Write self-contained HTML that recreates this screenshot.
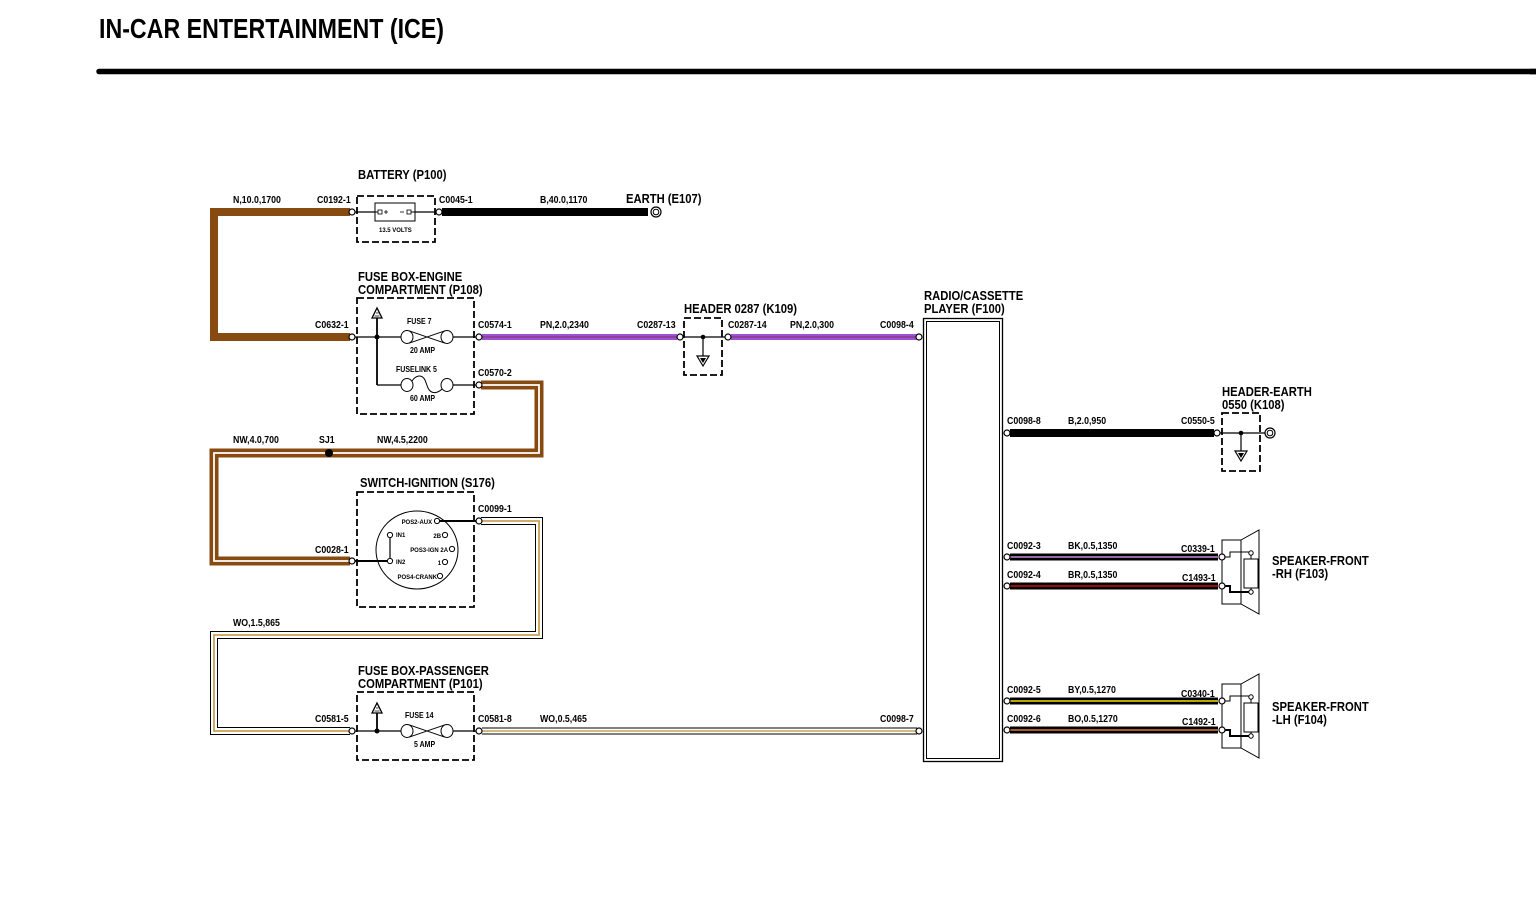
<!DOCTYPE html>
<html><head><meta charset="utf-8"><style>
html,body{margin:0;padding:0;background:#fff;}
svg{display:block;}
text{font-family:"Liberation Sans",Arial,sans-serif;font-weight:bold;fill:#000;}
.s{font-size:10px;transform-box:fill-box;transform-origin:0 0;transform:scaleX(.88);}
.m{font-size:12.5px;transform-box:fill-box;transform-origin:0 0;transform:scaleX(.9);}
.t{font-size:8px;transform-box:fill-box;transform-origin:0 0;transform:scaleX(.88);}
.x{font-size:6.8px;transform-box:fill-box;transform-origin:0 0;transform:scaleX(.88);}
.xe{font-size:6.8px;text-anchor:end;transform-box:fill-box;transform-origin:100% 0;transform:scaleX(.88);}
.db{fill:none;stroke:#000;stroke-width:1.8;stroke-dasharray:7 3;}
.ln{fill:none;stroke:#000;stroke-width:1.2;}
.cn{fill:#fff;stroke:#000;stroke-width:1.2;}
</style></head><body>
<svg width="1536" height="905" viewBox="0 0 1536 905" xmlns="http://www.w3.org/2000/svg">
<rect width="1536" height="905" fill="#fff"/>
<!-- title -->
<text x="99" y="38" font-size="28" textLength="345" lengthAdjust="spacingAndGlyphs">IN-CAR ENTERTAINMENT (ICE)</text>
<path d="M99 71.5 H1536" stroke="#000" stroke-width="5.5" stroke-linecap="round"/>
<rect x="1530" y="68.8" width="6" height="5.5" fill="#000"/>

<!-- ===== WIRES ===== -->
<!-- N brown -->
<polyline points="350,212 214,212 214,337 350,337" fill="none" stroke="#874a10" stroke-width="8"/>
<!-- B black battery-earth -->
<line x1="442" y1="212" x2="648" y2="212" stroke="#000" stroke-width="8"/>
<!-- PN purple -->
<line x1="482" y1="337" x2="677" y2="337" stroke="#9d52d6" stroke-width="6"/>
<line x1="482" y1="337" x2="677" y2="337" stroke="#7b3060" stroke-width="1"/>
<line x1="731" y1="337" x2="917" y2="337" stroke="#9d52d6" stroke-width="6"/>
<line x1="731" y1="337" x2="917" y2="337" stroke="#7b3060" stroke-width="1"/>
<!-- NW brown/white -->
<polyline points="481,385 539,385 539,453 214,453 214,561 350,561" fill="none" stroke="#874a10" stroke-width="9"/>
<polyline points="481,385 539,385 539,453 214,453 214,561 350,561" fill="none" stroke="#fff" stroke-width="1.8"/>
<!-- WO -->
<polyline points="481,521 539,521 539,635 214,635 214,731 350,731" fill="none" stroke="#000" stroke-width="8"/>
<polyline points="481,521 539,521 539,635 214,635 214,731 350,731" fill="none" stroke="#fff" stroke-width="6"/>
<polyline points="481,521 539,521 539,635 214,635 214,731 350,731" fill="none" stroke="#c9a05a" stroke-width="1.8"/>
<line x1="482" y1="731" x2="917" y2="731" stroke="#000" stroke-width="7"/>
<line x1="482" y1="731" x2="917" y2="731" stroke="#fff" stroke-width="5"/>
<line x1="482" y1="731" x2="917" y2="731" stroke="#c9a05a" stroke-width="1.6"/>
<!-- B 2.0 -->
<line x1="1010" y1="433" x2="1214" y2="433" stroke="#000" stroke-width="8"/>
<!-- speaker wires -->
<line x1="1010" y1="557" x2="1218" y2="557" stroke="#000" stroke-width="7"/>
<line x1="1010" y1="557" x2="1218" y2="557" stroke="#c98ad8" stroke-width="1.4"/>
<line x1="1010" y1="586" x2="1218" y2="586" stroke="#000" stroke-width="7"/>
<line x1="1010" y1="586" x2="1218" y2="586" stroke="#c81010" stroke-width="1.4"/>
<line x1="1010" y1="701" x2="1218" y2="701" stroke="#000" stroke-width="7"/>
<line x1="1010" y1="701" x2="1218" y2="701" stroke="#f2e000" stroke-width="1.4"/>
<line x1="1010" y1="730" x2="1218" y2="730" stroke="#000" stroke-width="7"/>
<line x1="1010" y1="730" x2="1218" y2="730" stroke="#e07a30" stroke-width="1.4"/>

<!-- ===== BATTERY ===== -->
<rect class="db" x="357" y="196" width="78" height="46"/>
<line class="ln" x1="352" y1="212" x2="375" y2="212"/>
<line class="ln" x1="415" y1="212" x2="440" y2="212"/>
<rect x="375" y="203" width="40" height="18" fill="none" stroke="#000" stroke-width="1"/>
<rect x="378" y="210" width="4" height="4" fill="#fff" stroke="#000" stroke-width=".8"/>
<line x1="375" y1="212" x2="378" y2="212" stroke="#000" stroke-width="1"/>
<path d="M384 212 h4 M386 210 v4" stroke="#000" stroke-width=".8"/>
<path d="M400 212 h4" stroke="#000" stroke-width=".8"/>
<rect x="407" y="210" width="4" height="4" fill="#fff" stroke="#000" stroke-width=".8"/>
<line x1="411" y1="212" x2="415" y2="212" stroke="#000" stroke-width="1"/>
<text class="x" x="379" y="232">13.5 VOLTS</text>
<!-- earth E107 -->
<circle cx="656" cy="212" r="5" fill="#fff" stroke="#000" stroke-width="1.2"/>
<circle cx="656" cy="212" r="2.8" fill="none" stroke="#000" stroke-width="1"/>

<!-- ===== FUSE BOX ENGINE ===== -->
<rect class="db" x="357" y="298" width="117" height="116"/>
<line class="ln" x1="352" y1="337" x2="401" y2="337"/>
<line class="ln" x1="453" y1="337" x2="478" y2="337"/>
<line x1="377" y1="318" x2="377" y2="385" stroke="#000" stroke-width="1.8"/>
<line class="ln" x1="377" y1="385" x2="401" y2="385"/>
<line class="ln" x1="453" y1="385" x2="478" y2="385"/>
<circle cx="377" cy="337" r="2.5" fill="#000"/>
<polygon points="372,318 382,318 377,308" fill="#fff" stroke="#000" stroke-width="1.3"/>
<path d="M374.5,316 h5 M376,313 h2.5" stroke="#000" stroke-width=".8"/>
<!-- fuse 7 -->
<ellipse cx="407" cy="337" rx="6" ry="6.5" fill="#fff" stroke="#000" stroke-width="1"/>
<ellipse cx="447" cy="337" rx="6" ry="6.5" fill="#fff" stroke="#000" stroke-width="1"/>
<path d="M409,330.8 L445,343.2 M409,343.2 L445,330.8" stroke="#000" stroke-width="1"/>
<text class="t" x="407" y="324">FUSE 7</text>
<text class="t" x="410" y="353">20 AMP</text>
<!-- fuselink 5 -->
<ellipse cx="407" cy="385" rx="6" ry="6.5" fill="#fff" stroke="#000" stroke-width="1"/>
<ellipse cx="447" cy="385" rx="6" ry="6.5" fill="#fff" stroke="#000" stroke-width="1"/>
<path d="M412,381 C416,375 422,374 425,380 L428,388 C431,394 437,394 442,389" fill="none" stroke="#000" stroke-width="1"/>
<text class="t" x="396" y="372">FUSELINK 5</text>
<text class="t" x="410" y="401">60 AMP</text>

<!-- ===== HEADER 0287 ===== -->
<rect class="db" x="684" y="318" width="38" height="57"/>
<line class="ln" x1="680" y1="337" x2="728" y2="337"/>
<circle cx="703" cy="337" r="2.3" fill="#000"/>
<line class="ln" x1="703" y1="337" x2="703" y2="356"/>
<polygon points="697,356 709,356 703,366" fill="#fff" stroke="#000" stroke-width="1.2"/>
<polygon points="700,358 706,358 703,363" fill="#000"/>

<!-- ===== RADIO ===== -->
<rect x="923.5" y="318.5" width="79" height="443" fill="#fff" stroke="#000" stroke-width="1.3"/>
<rect x="926.5" y="321.5" width="73" height="437" fill="none" stroke="#000" stroke-width="1"/>

<!-- ===== HEADER EARTH ===== -->
<rect class="db" x="1222" y="413" width="38" height="58"/>
<line class="ln" x1="1216" y1="433" x2="1265" y2="433"/>
<circle cx="1241" cy="433" r="2.3" fill="#000"/>
<line class="ln" x1="1241" y1="433" x2="1241" y2="451"/>
<polygon points="1235,451 1247,451 1241,461" fill="#fff" stroke="#000" stroke-width="1.2"/>
<polygon points="1238,453 1244,453 1241,458" fill="#000"/>
<circle cx="1270" cy="433" r="5" fill="#fff" stroke="#000" stroke-width="1.2"/>
<circle cx="1270" cy="433" r="2.8" fill="none" stroke="#000" stroke-width="1"/>

<!-- ===== SWITCH IGNITION ===== -->
<rect class="db" x="357" y="492" width="117" height="115"/>
<ellipse cx="417" cy="550" rx="41" ry="39" fill="none" stroke="#000" stroke-width="1"/>
<line x1="352" y1="561" x2="390" y2="561" stroke="#000" stroke-width="2"/>
<line x1="437" y1="521" x2="478" y2="521" stroke="#000" stroke-width="2"/>
<line class="ln" x1="390" y1="535" x2="390" y2="561"/>
<circle cx="390" cy="535" r="2.6" fill="#fff" stroke="#000"/>
<circle cx="390" cy="561" r="2.6" fill="#fff" stroke="#000"/>
<circle cx="437" cy="521" r="2.6" fill="#fff" stroke="#000"/>
<circle cx="445" cy="535" r="2.6" fill="#fff" stroke="#000"/>
<circle cx="452" cy="549" r="2.6" fill="#fff" stroke="#000"/>
<circle cx="445" cy="562" r="2.6" fill="#fff" stroke="#000"/>
<circle cx="440" cy="576" r="2.6" fill="#fff" stroke="#000"/>
<text class="xe" x="432" y="524">POS2-AUX</text>
<text class="x" x="396" y="537">IN1</text>
<text class="xe" x="441" y="538">2B</text>
<text class="xe" x="448" y="552">POS3-IGN 2A</text>
<text class="x" x="396" y="564">IN2</text>
<text class="xe" x="441" y="565">1</text>
<text class="xe" x="437" y="579">POS4-CRANK</text>

<!-- ===== FUSE BOX PASSENGER ===== -->
<rect class="db" x="357" y="692" width="117" height="68"/>
<line class="ln" x1="352" y1="731" x2="401" y2="731"/>
<line class="ln" x1="453" y1="731" x2="478" y2="731"/>
<line x1="377" y1="713" x2="377" y2="731" stroke="#000" stroke-width="1.8"/>
<circle cx="377" cy="731" r="2.5" fill="#000"/>
<polygon points="372,713 382,713 377,703" fill="#fff" stroke="#000" stroke-width="1.3"/>
<path d="M374.5,711 h5 M376,708 h2.5" stroke="#000" stroke-width=".8"/>
<ellipse cx="407" cy="731" rx="6" ry="6.5" fill="#fff" stroke="#000" stroke-width="1"/>
<ellipse cx="447" cy="731" rx="6" ry="6.5" fill="#fff" stroke="#000" stroke-width="1"/>
<path d="M409,724.8 L445,737.2 M409,737.2 L445,724.8" stroke="#000" stroke-width="1"/>
<text class="t" x="405" y="718">FUSE 14</text>
<text class="t" x="414" y="747">5 AMP</text>

<!-- ===== SPEAKERS ===== -->
<g id="spk">
<rect x="1222" y="540" width="19" height="64" fill="#fff" stroke="#000" stroke-width="1"/>
<polygon points="1241,540 1259,530 1259,614 1241,604" fill="none" stroke="#000" stroke-width="1"/>
<rect x="1244" y="559" width="14" height="29" fill="#fff" stroke="#000" stroke-width="1"/>
<path d="M1222,557 H1230 V552 H1249" fill="none" stroke="#000" stroke-width="1"/>
<path d="M1222,586 H1230 V592 H1249" fill="none" stroke="#000" stroke-width="2"/>
<circle cx="1251" cy="553" r="2.2" fill="#fff" stroke="#000" stroke-width="1"/>
<circle cx="1251" cy="592" r="2.2" fill="#fff" stroke="#000" stroke-width="1"/>
<line x1="1251" y1="555" x2="1251" y2="559" stroke="#000" stroke-width="1"/>
<line x1="1251" y1="588" x2="1251" y2="590" stroke="#000" stroke-width="1"/>
</g>
<use href="#spk" transform="translate(0,144)"/>

<!-- ===== CONNECTORS ===== -->
<g class="cn">
<circle cx="352" cy="212" r="3"/><circle cx="439" cy="212" r="3"/>
<circle cx="352" cy="337" r="3"/><circle cx="479" cy="337" r="3"/>
<circle cx="479" cy="385" r="3"/>
<circle cx="680" cy="337" r="3"/><circle cx="728" cy="337" r="3"/>
<circle cx="919" cy="337" r="3"/><circle cx="919" cy="731" r="3"/>
<circle cx="1007" cy="433" r="3"/><circle cx="1217" cy="433" r="3"/>
<circle cx="1007" cy="557" r="3"/><circle cx="1007" cy="586" r="3"/>
<circle cx="1007" cy="701" r="3"/><circle cx="1007" cy="730" r="3"/>
<circle cx="1222" cy="557" r="3"/><circle cx="1222" cy="586" r="3"/>
<circle cx="1222" cy="701" r="3"/><circle cx="1222" cy="730" r="3"/>
<circle cx="352" cy="561" r="3"/><circle cx="479" cy="521" r="3"/>
<circle cx="352" cy="731" r="3"/><circle cx="479" cy="731" r="3"/>
</g>
<circle cx="329" cy="453" r="4" fill="#000"/>

<!-- ===== LABELS ===== -->
<text class="m" x="358" y="179">BATTERY (P100)</text>
<text class="s" x="233" y="203">N,10.0,1700</text>
<text class="s" x="317" y="203">C0192-1</text>
<text class="s" x="439" y="203">C0045-1</text>
<text class="s" x="540" y="203">B,40.0,1170</text>
<text class="m" x="626" y="203">EARTH (E107)</text>

<text class="m" x="358" y="281">FUSE BOX-ENGINE</text>
<text class="m" x="358" y="294">COMPARTMENT (P108)</text>
<text class="s" x="315" y="328">C0632-1</text>
<text class="s" x="478" y="328">C0574-1</text>
<text class="s" x="540" y="328">PN,2.0,2340</text>
<text class="s" x="637" y="328">C0287-13</text>
<text class="m" x="684" y="313">HEADER 0287 (K109)</text>
<text class="s" x="728" y="328">C0287-14</text>
<text class="s" x="790" y="328">PN,2.0,300</text>
<text class="s" x="880" y="328">C0098-4</text>
<text class="m" x="924" y="300">RADIO/CASSETTE</text>
<text class="m" x="924" y="313">PLAYER (F100)</text>
<text class="s" x="478" y="376">C0570-2</text>

<text class="s" x="233" y="443">NW,4.0,700</text>
<text class="s" x="319" y="443">SJ1</text>
<text class="s" x="377" y="443">NW,4.5,2200</text>

<text class="m" x="360" y="487">SWITCH-IGNITION (S176)</text>
<text class="s" x="478" y="512">C0099-1</text>
<text class="s" x="315" y="553">C0028-1</text>
<text class="s" x="233" y="626">WO,1.5,865</text>

<text class="m" x="358" y="675">FUSE BOX-PASSENGER</text>
<text class="m" x="358" y="688">COMPARTMENT (P101)</text>
<text class="s" x="315" y="722">C0581-5</text>
<text class="s" x="478" y="722">C0581-8</text>
<text class="s" x="540" y="722">WO,0.5,465</text>
<text class="s" x="880" y="722">C0098-7</text>

<text class="s" x="1007" y="424">C0098-8</text>
<text class="s" x="1068" y="424">B,2.0,950</text>
<text class="s" x="1181" y="424">C0550-5</text>
<text class="m" x="1222" y="396">HEADER-EARTH</text>
<text class="m" x="1222" y="409">0550 (K108)</text>

<text class="s" x="1007" y="549">C0092-3</text>
<text class="s" x="1068" y="549">BK,0.5,1350</text>
<text class="s" x="1181" y="552">C0339-1</text>
<text class="s" x="1007" y="578">C0092-4</text>
<text class="s" x="1068" y="578">BR,0.5,1350</text>
<text class="s" x="1182" y="581">C1493-1</text>
<text class="m" x="1272" y="565">SPEAKER-FRONT</text>
<text class="m" x="1272" y="578">-RH (F103)</text>

<text class="s" x="1007" y="693">C0092-5</text>
<text class="s" x="1068" y="693">BY,0.5,1270</text>
<text class="s" x="1181" y="697">C0340-1</text>
<text class="s" x="1007" y="722">C0092-6</text>
<text class="s" x="1068" y="722">BO,0.5,1270</text>
<text class="s" x="1182" y="725">C1492-1</text>
<text class="m" x="1272" y="711">SPEAKER-FRONT</text>
<text class="m" x="1272" y="724">-LH (F104)</text>
</svg>
</body></html>
